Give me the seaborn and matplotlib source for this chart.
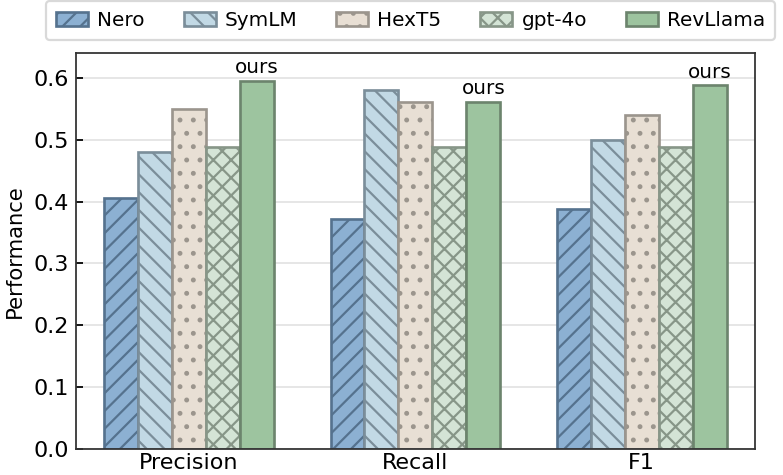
import numpy as np
import pandas as pd
import matplotlib
matplotlib.use("Agg")
import matplotlib.pyplot as plt
import seaborn as sns

# === DATA ===
metrics = ["Precision", "Recall", "F1"]
models = ["Nero", "SymLM", "HexT5", "gpt-4o", "RevLlama"]
nero = [0.406, 0.372, 0.388]
symlm = [0.481, 0.581, 0.500]
hext5 = [0.550, 0.561, 0.540]
gpt4o = [0.488, 0.488, 0.488]
revllama = [0.595, 0.561, 0.588]

# === STYLE ===
fills = ["#8CB0D2", "#C2D9E5", "#E8DFD4", "#D4E4D6", "#9DC49F"]
edges = ["#55728E", "#7B8E9A", "#9B958D", "#879688", "#6C846D"]
hatches = ["///", "\\\\\\", "..", "xxx", ""]

sns.set_style("whitegrid")
plt.rcParams["hatch.linewidth"] = 1.0
plt.rcParams["font.family"] = ["DejaVu Sans"]
for k in ["text.color", "axes.labelcolor", "xtick.color", "ytick.color"]:
    plt.rcParams[k] = "black"

rows = []
for name, vals in zip(models, [nero, symlm, hext5, gpt4o, revllama]):
    for m, v in zip(metrics, vals):
        rows.append({"Metric": m, "Model": name, "Performance": v})
df = pd.DataFrame(rows)

fig = plt.figure(figsize=(783 / 160, 475 / 160), dpi=160)
ax = fig.add_axes([0.097, 0.0547, 0.867, 0.8333])

sns.barplot(data=df, x="Metric", y="Performance", hue="Model", order=metrics,
            hue_order=models, palette=fills, saturation=1, width=0.75,
            legend=False, ax=ax, linewidth=1.2)

for cont, ec, h in zip(ax.containers, edges, hatches):
    for p in cont.patches:
        p.set_edgecolor(ec)
        p.set_hatch(h)
        p.set_linewidth(1.2)

# "ours" labels above RevLlama bars
for p in ax.containers[-1].patches:
    ax.text(p.get_x() + p.get_width() / 2, p.get_height() + 0.006, "ours",
            ha="center", va="bottom", fontsize=9)

ax.set_ylim(0, 0.64)
ax.set_yticks(np.arange(0, 0.61, 0.1))
ax.set_xlabel("")
ax.set_ylabel("Performance", fontsize=9.5, labelpad=4)
ax.tick_params(axis="x", labelsize=10, length=0, pad=2)
ax.tick_params(axis="y", labelsize=10, length=3, direction="in", left=True, pad=3)
ax.grid(axis="x", visible=False)
ax.grid(axis="y", color="#e3e3e3", linewidth=0.8)
ax.set_axisbelow(True)
for s in ax.spines.values():
    s.set_color("#333333")
    s.set_linewidth(0.8)

handles = [cont.patches[0] for cont in ax.containers]
ax.legend(handles, models, loc="lower center", bbox_to_anchor=(0.493, 1.033),
          borderaxespad=0, ncol=5, fontsize=9, frameon=True, handlelength=1.6,
          handleheight=0.65, handletextpad=0.45, columnspacing=1.95,
          borderpad=0.5, edgecolor="#d0d0d0", fancybox=True)

fig.savefig("out.png", dpi=160)
